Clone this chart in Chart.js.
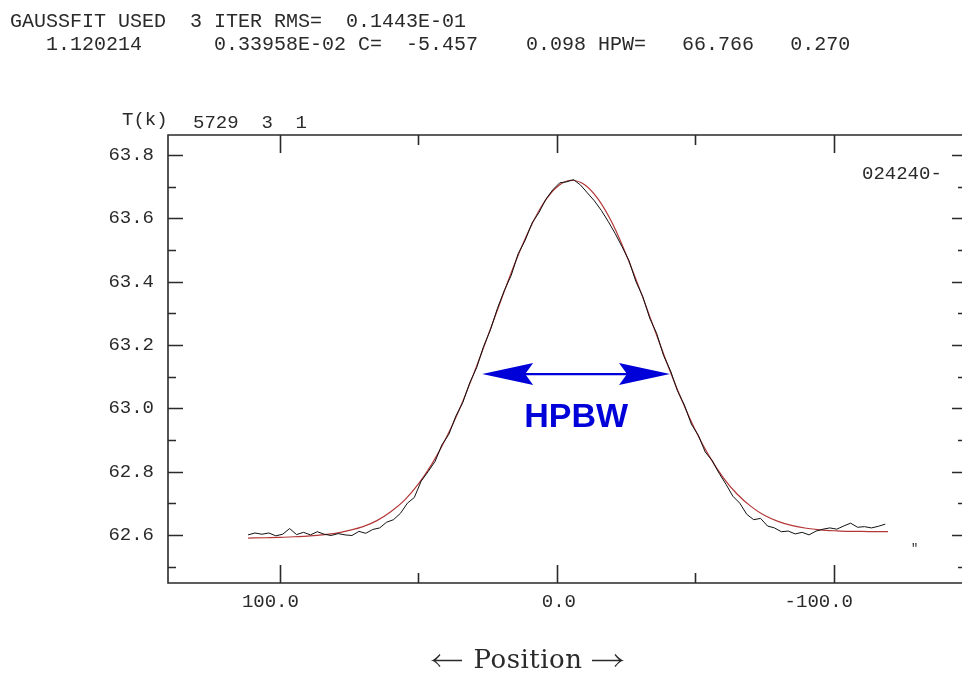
<!DOCTYPE html>
<html>
<head>
<meta charset="utf-8">
<script src="https://cdn.jsdelivr.net/npm/chart.js@4.4.1/dist/chart.umd.min.js"></script>
<style>
  html, body { margin: 0; padding: 0; background: #fff; }
  canvas { display: block; }
</style>
</head>
<body>
<canvas id="gaussChart" width="962" height="681"></canvas>
<script>
// measured scan (black) - position / temperature
const scanPos = [111.5, 109, 106.5, 104, 101.5, 99, 96.5, 94, 91.5, 89, 86.5, 84, 81.5, 79, 76.5, 74, 71.5, 69, 66.5, 64,
  61.5, 59, 56.5, 54, 51.5, 49, 46.5, 44, 41.5, 39, 36.5, 34, 31.5, 29, 26.5, 24, 21.5, 19, 16.5, 14,
  11.5, 9, 6.5, 4, 1.5, -1, -3.5, -6, -8.5, -11, -13.5, -16, -18.5, -21, -23.5, -26, -28.5, -31, -33.5, -36,
  -38.5, -41, -43.5, -46, -48.5, -51, -53.5, -56, -58.5, -61, -63.5, -66, -68.5, -71, -73.5, -76, -78.5, -81, -83.5, -86,
  -88.5, -91, -93.5, -96, -98.5, -101, -103.5, -106, -108.5, -111, -113.5, -116, -118.5];
const scanTemp = [62.600, 62.606, 62.602, 62.606, 62.597, 62.602, 62.620, 62.601, 62.608, 62.600, 62.610, 62.602, 62.598, 62.604, 62.600, 62.598, 62.611, 62.605, 62.617, 62.622,
  62.640, 62.648, 62.668, 62.700, 62.718, 62.770, 62.800, 62.832, 62.885, 62.918, 62.975, 63.018, 63.080, 63.128, 63.195, 63.248, 63.315, 63.372, 63.420, 63.488,
  63.530, 63.585, 63.618, 63.660, 63.690, 63.712, 63.715, 63.722, 63.705, 63.680, 63.655, 63.625, 63.590, 63.552, 63.510, 63.466, 63.400, 63.352, 63.284, 63.236,
  63.166, 63.118, 63.055, 63.010, 62.950, 62.915, 62.862, 62.835, 62.795, 62.760, 62.722, 62.700, 62.665, 62.648, 62.652, 62.628, 62.622, 62.610, 62.612, 62.603,
  62.608, 62.600, 62.612, 62.618, 62.622, 62.618, 62.628, 62.637, 62.624, 62.626, 62.622, 62.627, 62.634];

// gaussian fit (red)
const fitPos = [111.5, 105, 100, 95, 90, 85, 80, 75, 70, 65, 60, 55, 50, 45, 40, 35, 30, 25, 20, 15, 10, 5, 0,
  -5, -10, -15, -20, -25, -30, -35, -40, -45, -50, -55, -60, -65, -70, -75, -80, -85, -90, -95, -100, -105, -110, -115, -119.5];
const fitTemp = [62.590, 62.591, 62.592, 62.594, 62.596, 62.600, 62.605, 62.614, 62.626, 62.645, 62.673, 62.710, 62.761, 62.826, 62.906, 63.001, 63.110, 63.227, 63.346, 63.462, 63.564, 63.646, 63.699,
  63.720, 63.706, 63.659, 63.584, 63.485, 63.373, 63.254, 63.136, 63.027, 62.930, 62.848, 62.781, 62.729, 62.690, 62.661, 62.642, 62.629, 62.621, 62.616, 62.613, 62.611, 62.611, 62.610, 62.610];

const xTickValues = [100, 0, -100];
const xTickLabels = ['100.0', '0.0', '-100.0'];
const xMinorTicks = [50, -50];
const yTickValues = [62.6, 62.8, 63.0, 63.2, 63.4, 63.6, 63.8];
const yTickLabels = ['62.6', '62.8', '63.0', '63.2', '63.4', '63.6', '63.8'];
const yMinorTicks = [62.5, 62.7, 62.9, 63.1, 63.3, 63.5, 63.7];

// half power beam width marker
const hpbwFrom = 27, hpbwTo = -40.8, hpbwLevel = 63.108;

const headerLines = [
  'GAUSSFIT USED  3 ITER RMS=  0.1443E-01',
  '   1.120214      0.33958E-02 C=  -5.457    0.098 HPW=   66.766   0.270'
];

const mono = '"Liberation Mono", "DejaVu Sans Mono", monospace';
const ink = '#2a2a2a';

function arrow(ctx, xFrom, xTo, y) {
  const dir = Math.sign(xTo - xFrom);
  ctx.beginPath();
  ctx.moveTo(xFrom, y); ctx.lineTo(xTo, y);
  ctx.moveTo(xTo - dir * 7, y - 6);
  ctx.quadraticCurveTo(xTo - dir * 3, y - 1, xTo, y);
  ctx.quadraticCurveTo(xTo - dir * 3, y + 1, xTo - dir * 7, y + 6);
  ctx.stroke();
}

const frame = {
  id: 'frame',
  afterDraw(chart) {
    const ctx = chart.ctx;
    const {left, right, top, bottom} = chart.chartArea;
    const xs = chart.scales.x, ys = chart.scales.y;
    ctx.save();
    ctx.strokeStyle = ink;
    ctx.lineWidth = 1.6;
    ctx.beginPath();
    ctx.moveTo(right, top); ctx.lineTo(left, top); ctx.lineTo(left, bottom); ctx.lineTo(right, bottom);
    // y ticks, both sides, pointing in
    yTickValues.forEach(v => {
      const p = Math.round(ys.getPixelForValue(v)) + 0.5;
      ctx.moveTo(left, p); ctx.lineTo(left + 15, p);
      ctx.moveTo(right, p); ctx.lineTo(right - 10, p);
    });
    yMinorTicks.forEach(v => {
      const p = Math.round(ys.getPixelForValue(v)) + 0.5;
      ctx.moveTo(left, p); ctx.lineTo(left + 8, p);
      ctx.moveTo(right, p); ctx.lineTo(right - 4, p);
    });
    xTickValues.forEach(v => {
      const p = Math.round(xs.getPixelForValue(v)) + 0.5;
      ctx.moveTo(p, bottom); ctx.lineTo(p, bottom - 18);
      ctx.moveTo(p, top); ctx.lineTo(p, top + 18);
    });
    xMinorTicks.forEach(v => {
      const p = Math.round(xs.getPixelForValue(v)) + 0.5;
      ctx.moveTo(p, bottom); ctx.lineTo(p, bottom - 10);
      ctx.moveTo(p, top); ctx.lineTo(p, top + 10);
    });
    ctx.stroke();

    // header text
    ctx.fillStyle = ink;
    ctx.textBaseline = 'alphabetic';
    ctx.textAlign = 'left';
    ctx.font = '20px ' + mono;
    ctx.fillText(headerLines[0], 10, 27);
    ctx.fillText(headerLines[1], 10, 50);
    ctx.font = '19px ' + mono;
    ctx.fillText('T(k)', 122, 125);
    ctx.fillText('5729  3  1', 193, 128);
    ctx.fillText('024240-', 862, 179);
    ctx.font = '12px ' + mono;
    ctx.fillText('"', 911, 552);

    // HPBW arrow
    const y = ys.getPixelForValue(hpbwLevel);
    const x1 = xs.getPixelForValue(hpbwFrom), x2 = xs.getPixelForValue(hpbwTo);
    ctx.strokeStyle = '#0000d8';
    ctx.fillStyle = '#0000d8';
    ctx.lineWidth = 2.2;
    ctx.beginPath();
    ctx.moveTo(x1 + 40, y); ctx.lineTo(x2 - 40, y);
    ctx.stroke();
    ctx.beginPath();
    ctx.moveTo(x1, y); ctx.lineTo(x1 + 51, y - 11); ctx.lineTo(x1 + 43, y); ctx.lineTo(x1 + 51, y + 11); ctx.closePath();
    ctx.moveTo(x2, y); ctx.lineTo(x2 - 51, y - 11); ctx.lineTo(x2 - 43, y); ctx.lineTo(x2 - 51, y + 11); ctx.closePath();
    ctx.fill();
    ctx.font = 'bold 34px "Liberation Sans", Arial, sans-serif';
    ctx.textAlign = 'center';
    ctx.fillText('HPBW', (x1 + x2) / 2, y + 53);

    // axis caption
    ctx.fillStyle = ink;
    ctx.strokeStyle = ink;
    ctx.lineWidth = 1.3;
    ctx.font = '26px "DejaVu Serif", serif';
    ctx.letterSpacing = '0.5px';
    ctx.fillText('Position', 528, 668);
    arrow(ctx, 462, 433, 660.5);
    arrow(ctx, 592, 622, 660.5);
    ctx.restore();
  }
};

const ctx = document.getElementById('gaussChart').getContext('2d');
const gaussChart = new Chart(ctx, {
  type: 'line',
  data: {
    datasets: [{
      label: 'scan',
      data: scanPos.map((x, i) => ({x: x, y: scanTemp[i]})),
      borderColor: '#111',
      borderWidth: 1,
      pointRadius: 0,
      tension: 0
    }, {
      label: 'fit',
      data: fitPos.map((x, i) => ({x: x, y: fitTemp[i]})),
      borderColor: 'rgb(180, 55, 55)',
      borderWidth: 1.2,
      pointRadius: 0,
      cubicInterpolationMode: 'monotone'
    }]
  },
  options: {
    responsive: false,
    animation: false,
    devicePixelRatio: 1,
    layout: { padding: { top: 135, left: 0, right: 0, bottom: 0 } },
    plugins: {
      legend: { display: false },
      tooltip: { enabled: false }
    },
    scales: {
      x: {
        type: 'linear',
        reverse: true,
        min: -146.2,
        max: 140.4,
        grid: { display: false },
        border: { display: false },
        afterBuildTicks: s => { s.ticks = xTickValues.map(v => ({value: v})); },
        afterFit: s => { s.height = 98; },
        ticks: {
          align: 'end',
          labelOffset: 19,
          padding: 0,
          maxRotation: 0,
          color: ink,
          font: { family: 'Liberation Mono', size: 19 },
          callback: v => xTickLabels[xTickValues.indexOf(v)]
        }
      },
      y: {
        min: 62.448,
        max: 63.863,
        grid: { display: false },
        border: { display: false },
        afterBuildTicks: s => { s.ticks = yTickValues.map(v => ({value: v})); },
        afterFit: s => { s.width = 168; },
        ticks: {
          padding: 6,
          color: ink,
          font: { family: 'Liberation Mono', size: 19 },
          callback: v => yTickLabels[yTickValues.indexOf(v)]
        }
      }
    }
  },
  plugins: [frame]
});
</script>
</body>
</html>
